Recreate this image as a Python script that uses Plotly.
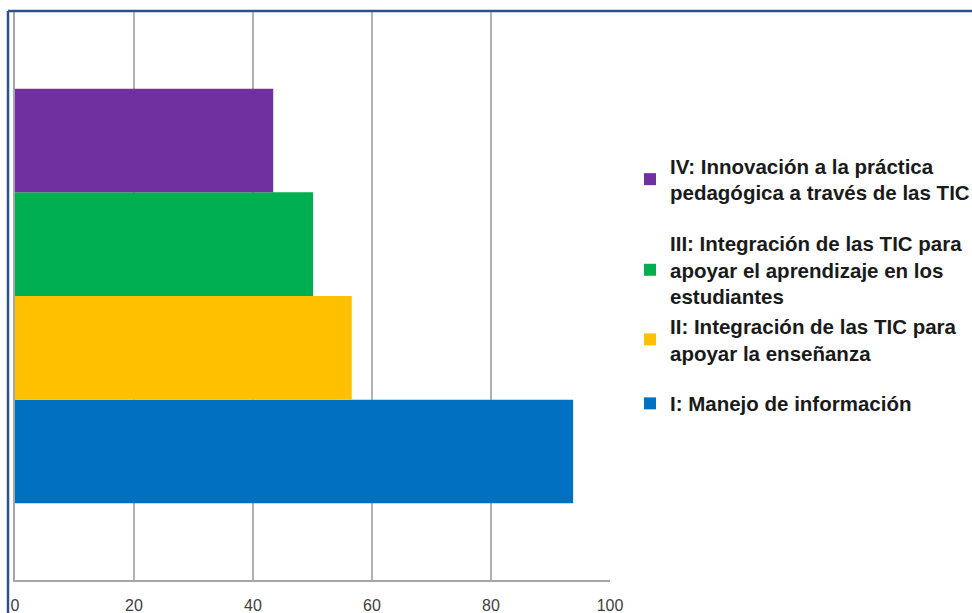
import plotly.graph_objects as go

# ---- data ----
category = ["Competencias TIC"]
series_names = [
    "I: Manejo de información",
    "II: Integración de las TIC para<br>apoyar la enseñanza",
    "III: Integración de las TIC para<br>apoyar el aprendizaje en los<br>estudiantes",
    "IV: Innovación a la práctica<br>pedagógica a través de las TIC",
]
series_values = [93.8, 56.6, 50.1, 43.4]
series_colors = ["#0070C0", "#FFC000", "#00B050", "#7030A0"]
legend_groups = ["c", "b", "b", "a"]
legend_ranks = [4, 3, 2, 1]
x_ticks = [0, 20, 40, 60, 80, 100]

W, H = 972, 613
ML, MR, MT, MB = 15, 362, 12, 33
PW, PH = W - ML - MR, H - MT - MB


def px_x(px):
    return (px - ML) / PW


def px_y(py):
    return (H - MB - py) / PH


fig = go.Figure()
for name, val, col, grp, rk in zip(series_names, series_values, series_colors,
                                   legend_groups, legend_ranks):
    fig.add_trace(go.Bar(
        y=category, x=[val], name=name, orientation="h",
        marker=dict(color=col, line=dict(width=0)),
        legendgroup=grp, legendrank=rk,
    ))

frame_col = "#2B5289"
fig.update_layout(
    width=W, height=H,
    margin=dict(l=ML, r=MR, t=MT, b=MB, pad=0, autoexpand=False),
    paper_bgcolor="white", plot_bgcolor="white",
    barmode="group", bargap=0.27, bargroupgap=0,
    font=dict(family="Liberation Sans, Arial, sans-serif", color="#404040"),
    xaxis=dict(
        range=[0, 100], tickvals=x_ticks, ticktext=[str(t) for t in x_ticks],
        showgrid=True, gridcolor="#B3B3B3", gridwidth=2,
        showline=True, linecolor="#A6A6A6", linewidth=1.5,
        zeroline=False, ticks="", tickfont=dict(size=16, color="#404040"),
        ticklabelstandoff=10, automargin=False,
        fixedrange=True,
    ),
    yaxis=dict(
        showticklabels=False, showgrid=False, zeroline=False,
        showline=True, linecolor="#A6A6A6", linewidth=1.5, ticks="",
        automargin=False, fixedrange=True,
    ),
    legend=dict(
        x=px_x(630), xanchor="left", y=px_y(146), yanchor="top",
        traceorder="grouped", tracegroupgap=21,
        font=dict(size=20.5, color="#1A1A1A", weight="bold",
                  family="Liberation Sans, Arial, sans-serif"),
        bgcolor="rgba(0,0,0,0)", borderwidth=0,
    ),
    showlegend=True,
    shapes=[
        dict(type="line", xref="paper", yref="paper",
             x0=px_x(8), x1=px_x(W), y0=px_y(11), y1=px_y(11),
             line=dict(color=frame_col, width=2.5)),
        dict(type="line", xref="paper", yref="paper",
             x0=px_x(8), x1=px_x(8), y0=px_y(11), y1=px_y(H),
             line=dict(color=frame_col, width=2.5)),
    ],
)

fig.write_html(
    "out.html",
    config={"displayModeBar": False, "responsive": False},
    post_script=(
        "document.documentElement.style.margin='0';"
        "document.documentElement.style.overflow='hidden';"
        "document.body.style.margin='0';"
        "document.body.style.padding='0';"
        "document.body.style.overflow='hidden';"
    ),
)
